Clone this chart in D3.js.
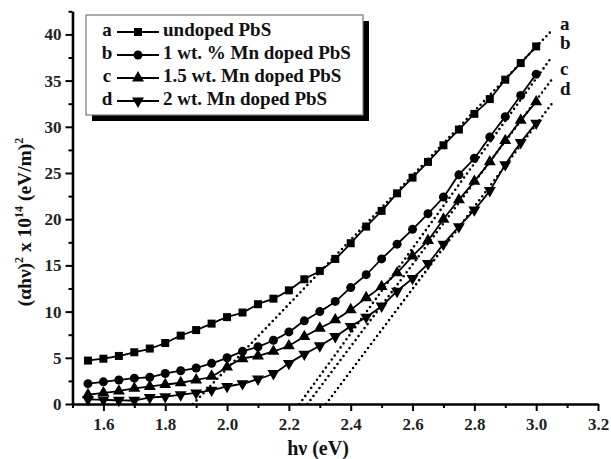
<!DOCTYPE html>
<html>
<head>
<meta charset="utf-8">
<script src="https://cdn.jsdelivr.net/npm/d3@7"></script>
<style>
  html, body { margin: 0; padding: 0; background: #fff; }
  svg { display: block; font-family: "Liberation Serif", "Times New Roman", serif; font-weight: bold; }
</style>
</head>
<body>
<svg id="chart" width="611" height="459"></svg>
<script>
// photon energy hν (eV)
const hv = [1.55, 1.60, 1.65, 1.70, 1.75, 1.80, 1.85, 1.90, 1.95, 2.00,
            2.05, 2.10, 2.15, 2.20, 2.25, 2.30, 2.35, 2.40, 2.45, 2.50,
            2.55, 2.60, 2.65, 2.70, 2.75, 2.80, 2.85, 2.90, 2.95, 3.00];

// (αhν)^2 x 10^14 for each sample
const undoped = [4.7, 4.9, 5.2, 5.6, 6.0, 6.6, 7.4, 8.0, 8.7, 9.4,
                 9.9, 10.8, 11.4, 12.3, 13.5, 14.4, 15.7, 17.4, 19.2, 20.9,
                 22.8, 24.5, 26.2, 28.0, 29.7, 31.4, 33.0, 35.1, 36.9, 38.7];
const mn1 = [2.2, 2.4, 2.6, 2.8, 2.9, 3.3, 3.6, 3.9, 4.4, 5.0,
             5.7, 6.2, 6.9, 7.8, 9.0, 10.0, 11.1, 12.6, 14.0, 15.7,
             17.3, 18.9, 20.6, 22.4, 24.8, 26.6, 28.9, 31.1, 33.4, 35.7];
const mn15 = [1.0, 1.2, 1.4, 1.7, 1.9, 2.1, 2.3, 2.6, 3.0, 4.0,
              4.9, 5.2, 5.7, 6.3, 7.3, 8.2, 9.1, 10.2, 11.5, 12.7,
              14.2, 16.0, 17.7, 20.0, 22.1, 24.1, 26.2, 28.5, 30.7, 32.7];
const mn2 = [0.5, 0.45, 0.4, 0.4, 0.7, 0.8, 1.0, 1.2, 1.5, 1.9,
             2.2, 2.7, 3.3, 4.4, 5.4, 6.3, 7.3, 8.4, 9.4, 10.6,
             12.2, 13.6, 15.2, 17.3, 19.2, 21.0, 23.1, 25.9, 28.3, 30.4];

const seriesKeys = ["a", "b", "c", "d"];
const seriesNames = ["undoped PbS", "1 wt. % Mn doped PbS", "1.5 wt. Mn doped PbS", "2 wt. Mn doped PbS"];
const seriesValues = [undoped, mn1, mn15, mn2];
const seriesMarkers = ["square", "circle", "up", "down"];

// linear fits (Tauc extrapolation): start on x axis, end point
const fitX0 = [1.89, 2.234, 2.26, 2.32];
const fitX1 = [3.05, 3.045, 3.05, 3.053];
const fitY1 = [40.4, 37.3, 35.1, 32.6];
const labelY = [41.0, 38.9, 36.1, 33.9];

const xMajor = [1.6, 1.8, 2.0, 2.2, 2.4, 2.6, 2.8, 3.0, 3.2];
const xMinor = [1.5, 1.7, 1.9, 2.1, 2.3, 2.5, 2.7, 2.9, 3.1];
const yMajor = [0, 5, 10, 15, 20, 25, 30, 35, 40];
const yMinor = [2.5, 7.5, 12.5, 17.5, 22.5, 27.5, 32.5, 37.5, 42.5];

const svg = d3.select("#chart");

const x = d3.scaleLinear().domain([1.5, 3.2]).range([72.5, 598]);
const y = d3.scaleLinear().domain([0, 42.5]).range([404, 11.3]);

// ── marker drawing ──────────────────────────────────────────────
function drawMarker(sel, kind, cx, cy) {
  if (kind === "square") {
    sel.append("rect").attr("x", cx - 4).attr("y", cy - 4)
      .attr("width", 8).attr("height", 8).attr("fill", "#000");
  } else if (kind === "circle") {
    sel.append("circle").attr("cx", cx).attr("cy", cy).attr("r", 4.5).attr("fill", "#000");
  } else {
    const sym = d3.symbol().type(d3.symbolTriangle).size(62);
    sel.append("path").attr("d", sym())
      .attr("transform", `translate(${cx},${cy}) rotate(${kind === "down" ? 180 : 0})`)
      .attr("fill", "#000");
  }
}

// ── dotted fit lines ───────────────────────────────────────────
const fits = svg.append("g");
seriesKeys.forEach((k, i) => {
  fits.append("line")
    .attr("x1", x(fitX0[i])).attr("y1", y(0))
    .attr("x2", x(fitX1[i])).attr("y2", y(fitY1[i]))
    .attr("stroke", "#000").attr("stroke-width", 2.6)
    .attr("stroke-linecap", "round").attr("stroke-dasharray", "0 5");
  fits.append("text")
    .attr("x", x(3.077)).attr("y", y(labelY[i]))
    .attr("dominant-baseline", "middle")
    .attr("font-size", 19).attr("fill", "#111")
    .text(k);
});

// ── curves + markers ───────────────────────────────────────────
const line = d3.line()
  .x((d, j) => x(hv[j]))
  .y((d) => y(d))
  .curve(d3.curveCatmullRom.alpha(0.5));

seriesValues.forEach((vals, i) => {
  const g = svg.append("g");
  g.append("path").attr("d", line(vals))
    .attr("fill", "none").attr("stroke", "#000").attr("stroke-width", 1.8);
  vals.forEach((v, j) => drawMarker(g, seriesMarkers[i], x(hv[j]), y(v)));
});

// ── axes ───────────────────────────────────────────────────────
const fmtX = d3.format(".1f");

svg.append("g").attr("transform", `translate(0,${y(0)})`)
  .call(d3.axisBottom(x).tickValues(xMajor).tickSize(7).tickSizeOuter(0).tickPadding(7).tickFormat(fmtX));
svg.append("g").attr("transform", `translate(0,${y(0)})`)
  .call(d3.axisBottom(x).tickValues(xMinor).tickSize(4).tickSizeOuter(0).tickFormat(""))
  .select(".domain").remove();

svg.append("g").attr("transform", `translate(${x(1.5)},0)`)
  .call(d3.axisLeft(y).tickValues(yMajor).tickSize(7).tickSizeOuter(0).tickPadding(4));
svg.append("g").attr("transform", `translate(${x(1.5)},0)`)
  .call(d3.axisLeft(y).tickValues(yMinor).tickSize(4).tickSizeOuter(0).tickFormat(""))
  .select(".domain").remove();

svg.selectAll(".domain").attr("stroke", "#000").attr("stroke-width", 2.6);
svg.selectAll(".tick line").attr("stroke", "#000").attr("stroke-width", 2);
svg.selectAll(".tick text")
  .attr("font-family", "Liberation Serif, serif").attr("font-weight", "bold")
  .attr("font-size", 17).attr("fill", "#222");

// axis titles
svg.append("text")
  .attr("x", 318).attr("y", 455)
  .attr("text-anchor", "middle").attr("font-size", 20).attr("fill", "#111")
  .text("hν (eV)");

const yt = svg.append("text")
  .attr("transform", "translate(31,222) rotate(-90)")
  .attr("text-anchor", "middle").attr("font-size", 19.5).attr("fill", "#111");
yt.append("tspan").text("(αhν)");
yt.append("tspan").attr("dy", -8).attr("font-size", 12).text("2");
yt.append("tspan").attr("dy", 8).text(" x 10");
yt.append("tspan").attr("dy", -8).attr("font-size", 12).text("14");
yt.append("tspan").attr("dy", 8).text(" (eV/m)");
yt.append("tspan").attr("dy", -8).attr("font-size", 12).text("2");

// ── legend ─────────────────────────────────────────────────────
const lg = svg.append("g");
lg.append("rect").attr("x", 92).attr("y", 21).attr("width", 277).attr("height", 100).attr("fill", "#000");
lg.append("rect").attr("x", 86).attr("y", 15).attr("width", 277).attr("height", 100)
  .attr("fill", "#fff").attr("stroke", "#777").attr("stroke-width", 1.2);

seriesKeys.forEach((k, i) => {
  const cy = 32 + i * 23;
  lg.append("text").attr("x", 107).attr("y", cy).attr("dominant-baseline", "middle")
    .attr("text-anchor", "middle").attr("font-size", 19).attr("fill", "#111").text(k);
  lg.append("line").attr("x1", 117).attr("x2", 159).attr("y1", cy).attr("y2", cy)
    .attr("stroke", "#000").attr("stroke-width", 1.8);
  drawMarker(lg, seriesMarkers[i], 138, cy);
  lg.append("text").attr("x", 163).attr("y", cy).attr("dominant-baseline", "middle")
    .attr("font-size", 19).attr("fill", "#111").text(seriesNames[i]);
});
</script>
</body>
</html>
